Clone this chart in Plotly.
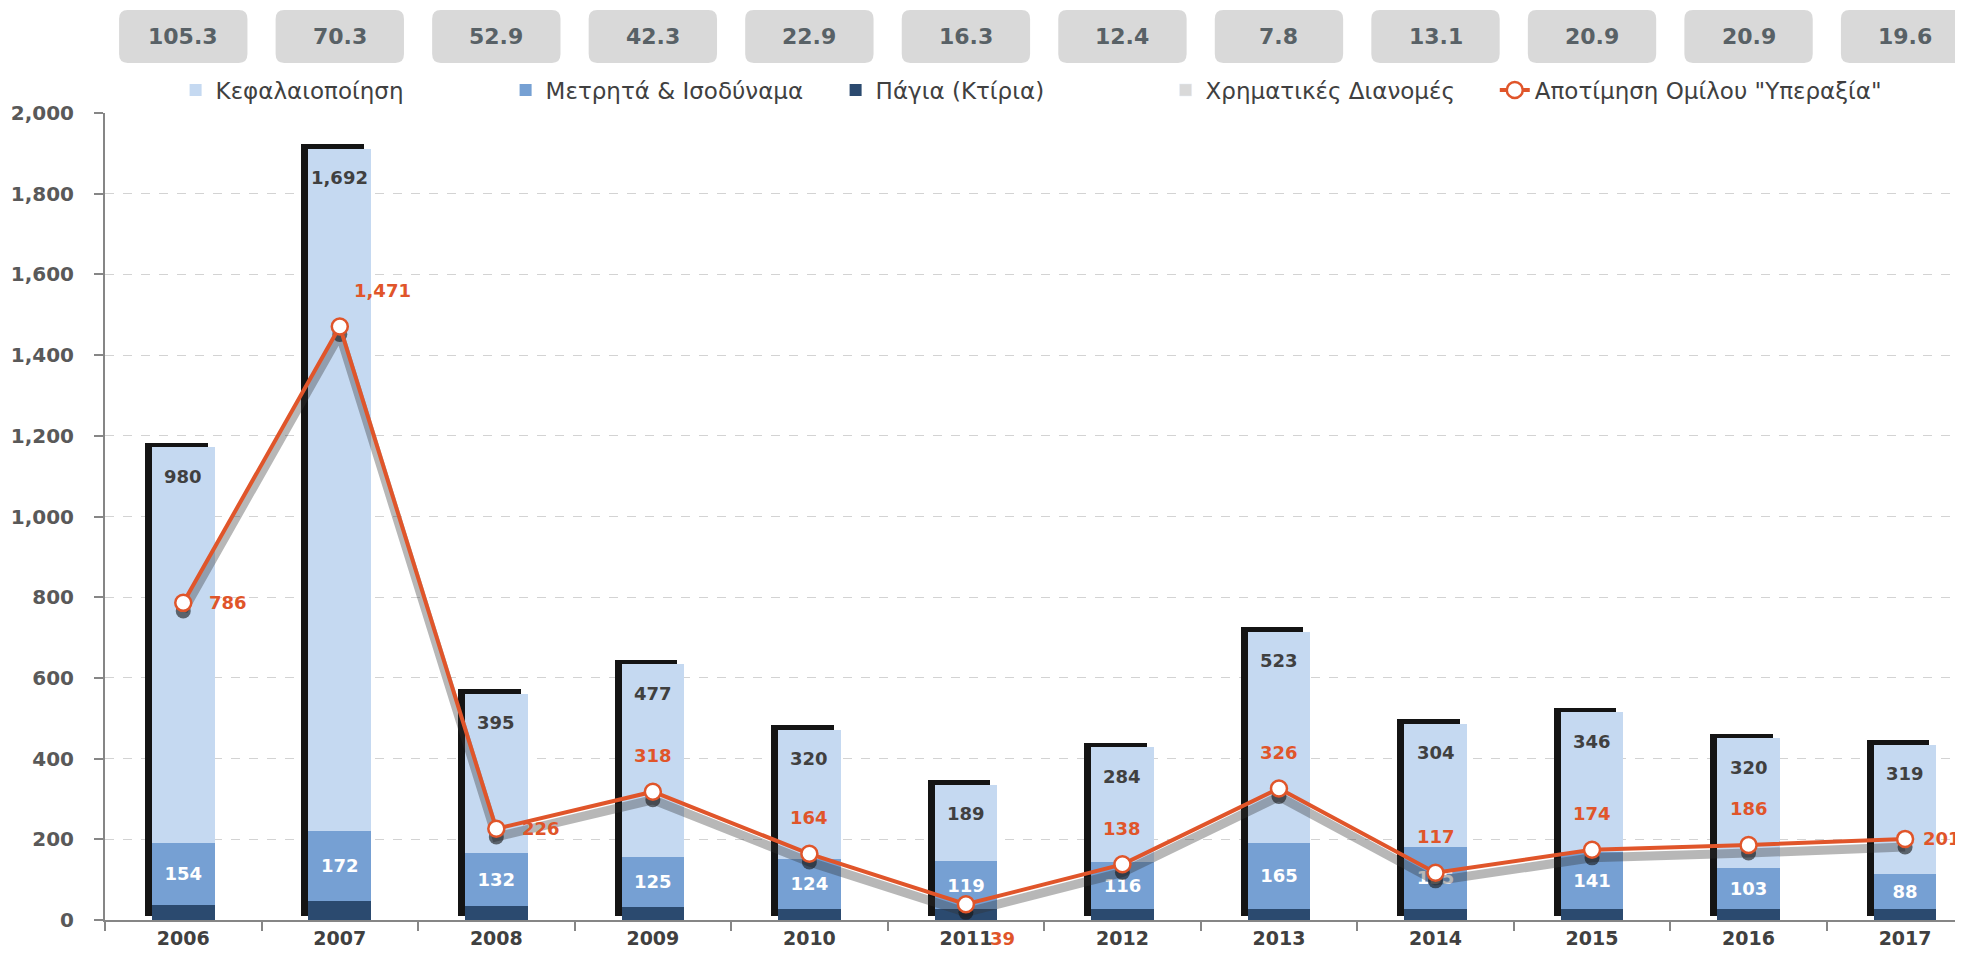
import plotly.graph_objects as go

# values
years = ["2006", "2007", "2008", "2009", "2010", "2011",
         "2012", "2013", "2014", "2015", "2016", "2017"]
pagia = [38, 48, 34, 32, 28, 27, 28, 27, 27, 28, 27, 27]            # Πάγια (Κτίρια)
metrita = [154, 172, 132, 125, 124, 119, 116, 165, 155, 141, 103, 88]  # Μετρητά & Ισοδύναμα
kefal = [980, 1692, 395, 477, 320, 189, 284, 523, 304, 346, 320, 319]  # Κεφαλαιοποίηση
dianomes = [105.3, 70.3, 52.9, 42.3, 22.9, 16.3, 12.4, 7.8, 13.1, 20.9, 20.9, 19.6]
ypeaxia = [786, 1471, 226, 318, 164, 39, 138, 326, 117, 174, 186, 201]

# where each line label sits relative to its point (anchor, dx, dy in px)
lbl_pos = [("left", 24, 0), ("left", 12, 36), ("left", 24, 0), ("center", 0, 36),
           ("center", 0, 36), ("left", 22, -34), ("center", 0, 36), ("center", 0, 36),
           ("center", 0, 36), ("center", 0, 36), ("center", 0, 36), ("left", 16, 0)]

FONT = "DejaVu Sans"
C_LIGHT = "#C5D9F1"
C_MID = "#76A0D3"
C_DARK = "#2B4A6F"
C_LINE = "#E0552A"
C_TXT = "#404040"

fig = go.Figure()

# black drop shadows of the bars (base subplot, shifted ranges)
for vals in (pagia, metrita, kefal):
    fig.add_trace(go.Bar(x=years, y=vals, width=0.4, marker=dict(color="#141414", line_width=0),
                         showlegend=False, hoverinfo="skip", xaxis="x", yaxis="y"))

fig.add_trace(go.Bar(x=years, y=pagia, name="Πάγια (Κτίρια)", width=0.4,
                     marker=dict(color=C_DARK, line_width=0), legendrank=3,
                     xaxis="x2", yaxis="y2"))
fig.add_trace(go.Bar(x=years, y=metrita, name="Μετρητά & Ισοδύναμα", width=0.4,
                     marker=dict(color=C_MID, line_width=0), legendrank=2,
                     text=[str(v) for v in metrita], textposition="inside",
                     insidetextanchor="middle", textangle=0, constraintext="none",
                     textfont=dict(family=FONT, size=18, color="white", weight="bold"),
                     xaxis="x2", yaxis="y2"))
fig.add_trace(go.Bar(x=years, y=kefal, name="Κεφαλαιοποίηση", width=0.4,
                     marker=dict(color=C_LIGHT, line_width=0), legendrank=1,
                     xaxis="x2", yaxis="y2"))
# legend entry for the distributions shown in the grey boxes on top
fig.add_trace(go.Bar(x=years, y=[None] * len(years), name="Χρηματικές Διανομές",
                     marker=dict(color="#D9D9D9"), legendrank=4, xaxis="x2", yaxis="y2"))

# grey shadow under the valuation line
fig.add_trace(go.Scatter(x=years, y=ypeaxia, mode="lines+markers", showlegend=False,
                         hoverinfo="skip", line=dict(color="rgba(50,50,50,0.35)", width=9),
                         marker=dict(size=15, color="rgba(20,20,20,0.6)"),
                         xaxis="x2", yaxis="y3"))
fig.add_trace(go.Scatter(x=years, y=ypeaxia, mode="lines+markers", name='Αποτίμηση Ομίλου "Υπεραξία"',
                         line=dict(color=C_LINE, width=4),
                         marker=dict(size=16, color="white", line=dict(color=C_LINE, width=2.5)),
                         legend="legend2", xaxis="x2", yaxis="y4"))

# labels (x given as category index)
for i in range(len(years)):
    top = pagia[i] + metrita[i] + kefal[i]
    fig.add_annotation(x=i, y=top, xref="x2", yref="y2", text=f"{kefal[i]:,}",
                       showarrow=False, yanchor="middle", yshift=-29,
                       font=dict(family=FONT, size=18, color=C_TXT, weight="bold"))
    anchor, dx, dy = lbl_pos[i]
    fig.add_annotation(x=i, y=ypeaxia[i], xref="x2", yref="y4", text=f"{ypeaxia[i]:,}",
                       showarrow=False, xanchor=anchor, xshift=dx, yshift=dy,
                       font=dict(family=FONT, size=18, color=C_LINE, weight="bold"))
    # rounded grey box with the distribution value
    x0, x1 = i - 0.41, i + 0.41
    y0, y1 = 1.062, 1.1276
    rx, ry = 0.055, 0.011
    path = (f"M{x0 + rx},{y0} L{x1 - rx},{y0} Q{x1},{y0} {x1},{y0 + ry} "
            f"L{x1},{y1 - ry} Q{x1},{y1} {x1 - rx},{y1} L{x0 + rx},{y1} "
            f"Q{x0},{y1} {x0},{y1 - ry} L{x0},{y0 + ry} Q{x0},{y0} {x0 + rx},{y0} Z")
    fig.add_shape(type="path", path=path, xref="x2", yref="paper",
                  fillcolor="#D9D9D9", line_width=0, layer="below")
    fig.add_annotation(x=i, y=(y0 + y1) / 2, xref="x2", yref="paper", text=f"{dianomes[i]}",
                       showarrow=False, yanchor="middle",
                       font=dict(family=FONT, size=22, color="#586166", weight="bold"))

xr = [-0.5, 11.37]
dx_sh, dy_sh, dy_line = 0.045, 11, 20
leg_font = dict(family=FONT, size=23, color=C_TXT)
fig.update_layout(
    width=1963, height=950,
    margin=dict(l=97, r=8, t=105, b=38, autoexpand=False),
    paper_bgcolor="white", plot_bgcolor="white",
    barmode="stack", bargap=0.6,
    font=dict(family=FONT, color=C_TXT),
    showlegend=True,
    legend=dict(orientation="h", x=0.038, y=1.0285, xanchor="left", yanchor="middle",
                traceorder="normal", font=leg_font,
                entrywidth=285, entrywidthmode="pixels", bgcolor="rgba(0,0,0,0)"),
    legend2=dict(orientation="h", x=0.748, y=1.0285, xanchor="left", yanchor="middle",
                 font=leg_font, bgcolor="rgba(0,0,0,0)"),
    xaxis=dict(type="category", range=[xr[0] + dx_sh, xr[1] + dx_sh], visible=False,
               fixedrange=True),
    yaxis=dict(range=[-dy_sh, 2000 - dy_sh], visible=False),
    xaxis2=dict(type="category", overlaying="x", range=xr, tickson="boundaries",
                ticks="outside", ticklen=9, tickcolor="#868686", tickwidth=2,
                showline=True, linecolor="#868686", linewidth=2, showgrid=False,
                ticklabelstandoff=0, automargin=False,
                tickfont=dict(family=FONT, size=19, color=C_TXT, weight="bold")),
    yaxis2=dict(overlaying="y", range=[0, 2000], dtick=200, tickformat=",",
                showline=True, linecolor="#868686", linewidth=2,
                ticks="outside", ticklen=9, tickcolor="#868686", tickwidth=2,
                showgrid=True, gridcolor="#D3D3D3", griddash="dash", gridwidth=1,
                zeroline=False, ticklabelstandoff=16, automargin=False,
                tickfont=dict(family=FONT, size=20, color="#595959", weight="bold")),
    yaxis3=dict(overlaying="y", range=[dy_line, 2000 + dy_line], visible=False),
    yaxis4=dict(overlaying="y", range=[0, 2000], visible=False),
)

fig.write_html("out.html")
